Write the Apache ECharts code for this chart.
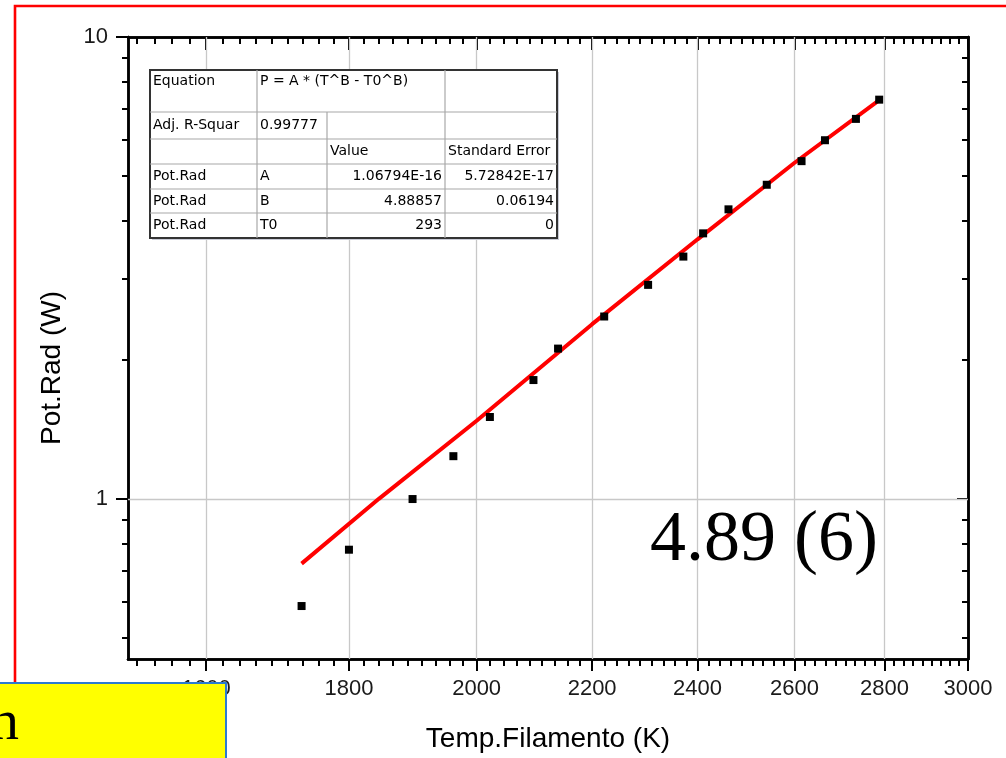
<!DOCTYPE html>
<html><head><meta charset="utf-8">
<script src="https://cdn.jsdelivr.net/npm/echarts@6/dist/echarts.min.js"></script>
<style>html,body{margin:0;padding:0;background:#fff}#chart{width:1006px;height:758px}</style>
</head><body><div id="chart"></div>
<script>
// ---- data ----
const temperatures = [1731, 1800, 1897, 1962, 2022, 2096, 2139, 2222, 2304, 2372, 2411, 2462, 2541, 2615, 2666, 2735, 2788];
const powers       = [0.586, 0.776, 0.999, 1.237, 1.504, 1.808, 2.115, 2.482, 2.906, 3.346, 3.757, 4.235, 4.787, 5.385, 5.977, 6.648, 7.317];
const fitTemperatures = [1731, 1845, 2000, 2200, 2400, 2600, 2792];
const fitPowers       = [0.724, 1.0, 1.476, 2.389, 3.647, 5.342, 7.345];
const xTickLabels = [1600, 1800, 2000, 2200, 2400, 2600, 2800, 3000];
const yTickLabels = [1, 10];
const yMinorTicks = [0.5, 0.6, 0.7, 0.8, 0.9, 2, 3, 4, 5, 6, 7, 8, 9];
const xGridLines = [1600, 1800, 2000, 2200, 2400, 2600, 2800];
const yGridLines = [1];
const xAxisTitle = 'Temp.Filamento (K)';
const yAxisTitle = 'Pot.Rad (W)';
const tableRows = [
  ['Equation', 'P = A * (T^B - T0^B)', '', ''],
  ['Adj. R-Squar', '0.99777', '', ''],
  ['', '', 'Value', 'Standard Error'],
  ['Pot.Rad', 'A', '1.06794E-16', '5.72842E-17'],
  ['Pot.Rad', 'B', '4.88857', '0.06194'],
  ['Pot.Rad', 'T0', '293', '0']
];
const fitResultText = '4.89 (6)';
const boxText = 'n';

// minor x ticks: 8 per 200 K interval
const xMinorTicks = [];
for (let k = 1; k <= 4; k++) xMinorTicks.push(1600 - k * 200 / 9);
for (let m = 1600; m < 3000; m += 200) for (let k = 1; k <= 8; k++) xMinorTicks.push(m + k * 200 / 9);

const sans = 'Liberation Sans, Arial, sans-serif';
const lineBlack = { color: '#000', width: 2.5 };

function xAx(pos, ticks, len, inside, labels) {
  return {
    type: 'log', logBase: 10, min: 1500, max: 3000, position: pos,
    axisLine: { show: true, onZero: false, lineStyle: lineBlack },
    axisTick: { show: true, inside: inside, length: len, customValues: ticks, lineStyle: { color: '#000', width: 2 } },
    axisLabel: labels ? { show: true, customValues: xTickLabels, margin: 19, fontSize: 22, fontFamily: sans, color: '#1a1a1a', formatter: v => String(Math.round(v)) } : { show: false },
    splitLine: { show: false }, minorTick: { show: false },
    name: labels ? xAxisTitle : '', nameLocation: 'middle', nameGap: 66,
    nameTextStyle: { fontSize: 28, fontFamily: sans, color: '#000' }
  };
}
function yAx(pos, ticks, len, inside, labels) {
  return {
    type: 'log', logBase: 10, min: 0.45, max: 10, position: pos,
    axisLine: { show: true, onZero: false, lineStyle: lineBlack },
    axisTick: { show: true, inside: inside, length: len, customValues: ticks, lineStyle: { color: '#000', width: 2 } },
    axisLabel: labels ? { show: true, customValues: yTickLabels, margin: 20, fontSize: 22, fontFamily: sans, color: '#1a1a1a', formatter: v => String(v) } : { show: false },
    splitLine: { show: false }, minorTick: { show: false },
    name: labels ? yAxisTitle : '', nameLocation: 'middle', nameGap: 62, nameRotate: 90,
    nameTextStyle: { fontSize: 28, fontFamily: sans, color: '#000', padding: [0, 40, 0, 0] }
  };
}

// table graphics
const colX = [150, 257, 327, 445, 557];
const rowY = [70, 112, 139, 164, 189, 213, 238];
const tableEls = [];
tableEls.push({ type: 'rect', shape: { x: colX[0] + 2, y: rowY[0] + 2, width: colX[4] - colX[0], height: rowY[6] - rowY[0] }, style: { fill: '#c9cbd6' }, z: 100 });
tableEls.push({ type: 'rect', shape: { x: colX[0], y: rowY[0], width: colX[4] - colX[0], height: rowY[6] - rowY[0] }, style: { fill: '#fff', stroke: '#333', lineWidth: 2 }, z: 101 });
for (let i = 1; i < 6; i++) tableEls.push({ type: 'line', shape: { x1: colX[0], y1: rowY[i], x2: colX[4], y2: rowY[i] }, style: { stroke: '#a8a8a8', lineWidth: 1.2 }, z: 102 });
tableEls.push({ type: 'line', shape: { x1: colX[1], y1: rowY[0], x2: colX[1], y2: rowY[6] }, style: { stroke: '#a8a8a8', lineWidth: 1.2 }, z: 102 });
tableEls.push({ type: 'line', shape: { x1: colX[2], y1: rowY[1], x2: colX[2], y2: rowY[6] }, style: { stroke: '#a8a8a8', lineWidth: 1.2 }, z: 102 });
tableEls.push({ type: 'line', shape: { x1: colX[3], y1: rowY[0], x2: colX[3], y2: rowY[6] }, style: { stroke: '#a8a8a8', lineWidth: 1.2 }, z: 102 });
tableRows.forEach((row, r) => {
  row.forEach((txt, c) => {
    if (!txt) return;
    const numeric = r >= 3 && c >= 2;
    const yc = r === 0 ? rowY[0] + 11 : (rowY[r] + rowY[r + 1]) / 2;
    tableEls.push({
      type: 'text', z: 103,
      style: { text: txt, x: numeric ? colX[c + 1] - 3 : colX[c] + 3, y: yc, align: numeric ? 'right' : 'left', verticalAlign: 'middle',
               font: '14px "DejaVu Sans", sans-serif', fill: '#000' }
    });
  });
});

const option = {
  animation: false,
  backgroundColor: '#fff',
  grid: { left: 128, right: 38, top: 37, bottom: 98, containLabel: false },
  xAxis: [
    xAx('bottom', xTickLabels, 12, false, true),
    xAx('bottom', xMinorTicks, 7, false, false),
    xAx('top', xTickLabels, 13, true, false),
    xAx('top', xMinorTicks, 7, true, false)
  ],
  yAxis: [
    yAx('left', yTickLabels, 12, false, true),
    yAx('left', yMinorTicks, 6, false, false),
    yAx('right', yTickLabels, 11, true, false),
    yAx('right', yMinorTicks, 6, true, false)
  ],
  series: [
    {
      type: 'line', data: [], z: 1, zlevel: 0, silent: true,
      markLine: {
        silent: true, symbol: 'none', label: { show: false },
        lineStyle: { color: '#c8c8c8', width: 1.3, type: 'solid' },
        data: xGridLines.map(v => ({ xAxis: v })).concat(yGridLines.map(v => ({ yAxis: v })))
      }
    },
    {
      type: 'line', z: 3, zlevel: 1, data: fitTemperatures.map((t, i) => [t, fitPowers[i]]),
      showSymbol: false, lineStyle: { color: '#ff0000', width: 4 }, itemStyle: { color: '#ff0000' }
    },
    {
      type: 'scatter', z: 4, zlevel: 1, data: temperatures.map((t, i) => [t, powers[i]]),
      symbol: 'rect', symbolSize: 8, itemStyle: { color: '#000', opacity: 1 }
    }
  ],
  graphic: tableEls.concat([
    { type: 'polyline', z: 150, shape: { points: [[15, 760], [15, 6], [1010, 6]] }, style: { stroke: '#ff0000', lineWidth: 2.6, fill: null } },
    { type: 'text', z: 150, style: { text: fitResultText, x: 650, y: 541, verticalAlign: 'middle', font: '72px "Liberation Serif", "Times New Roman", serif', fill: '#000' } },
    { type: 'rect', z: 200, shape: { x: -3, y: 683, width: 229, height: 80 }, style: { fill: '#ffff00', stroke: '#2b7bd0', lineWidth: 2 } },
    { type: 'text', z: 201, style: { text: boxText, x: 19, y: 753, align: 'right', verticalAlign: 'bottom', font: '58px "Liberation Serif", "Times New Roman", serif', fill: '#000' } }
  ])
};
const chart = echarts.init(document.getElementById('chart'), null, { renderer: 'canvas' });
chart.setOption(option);
</script></body></html>
